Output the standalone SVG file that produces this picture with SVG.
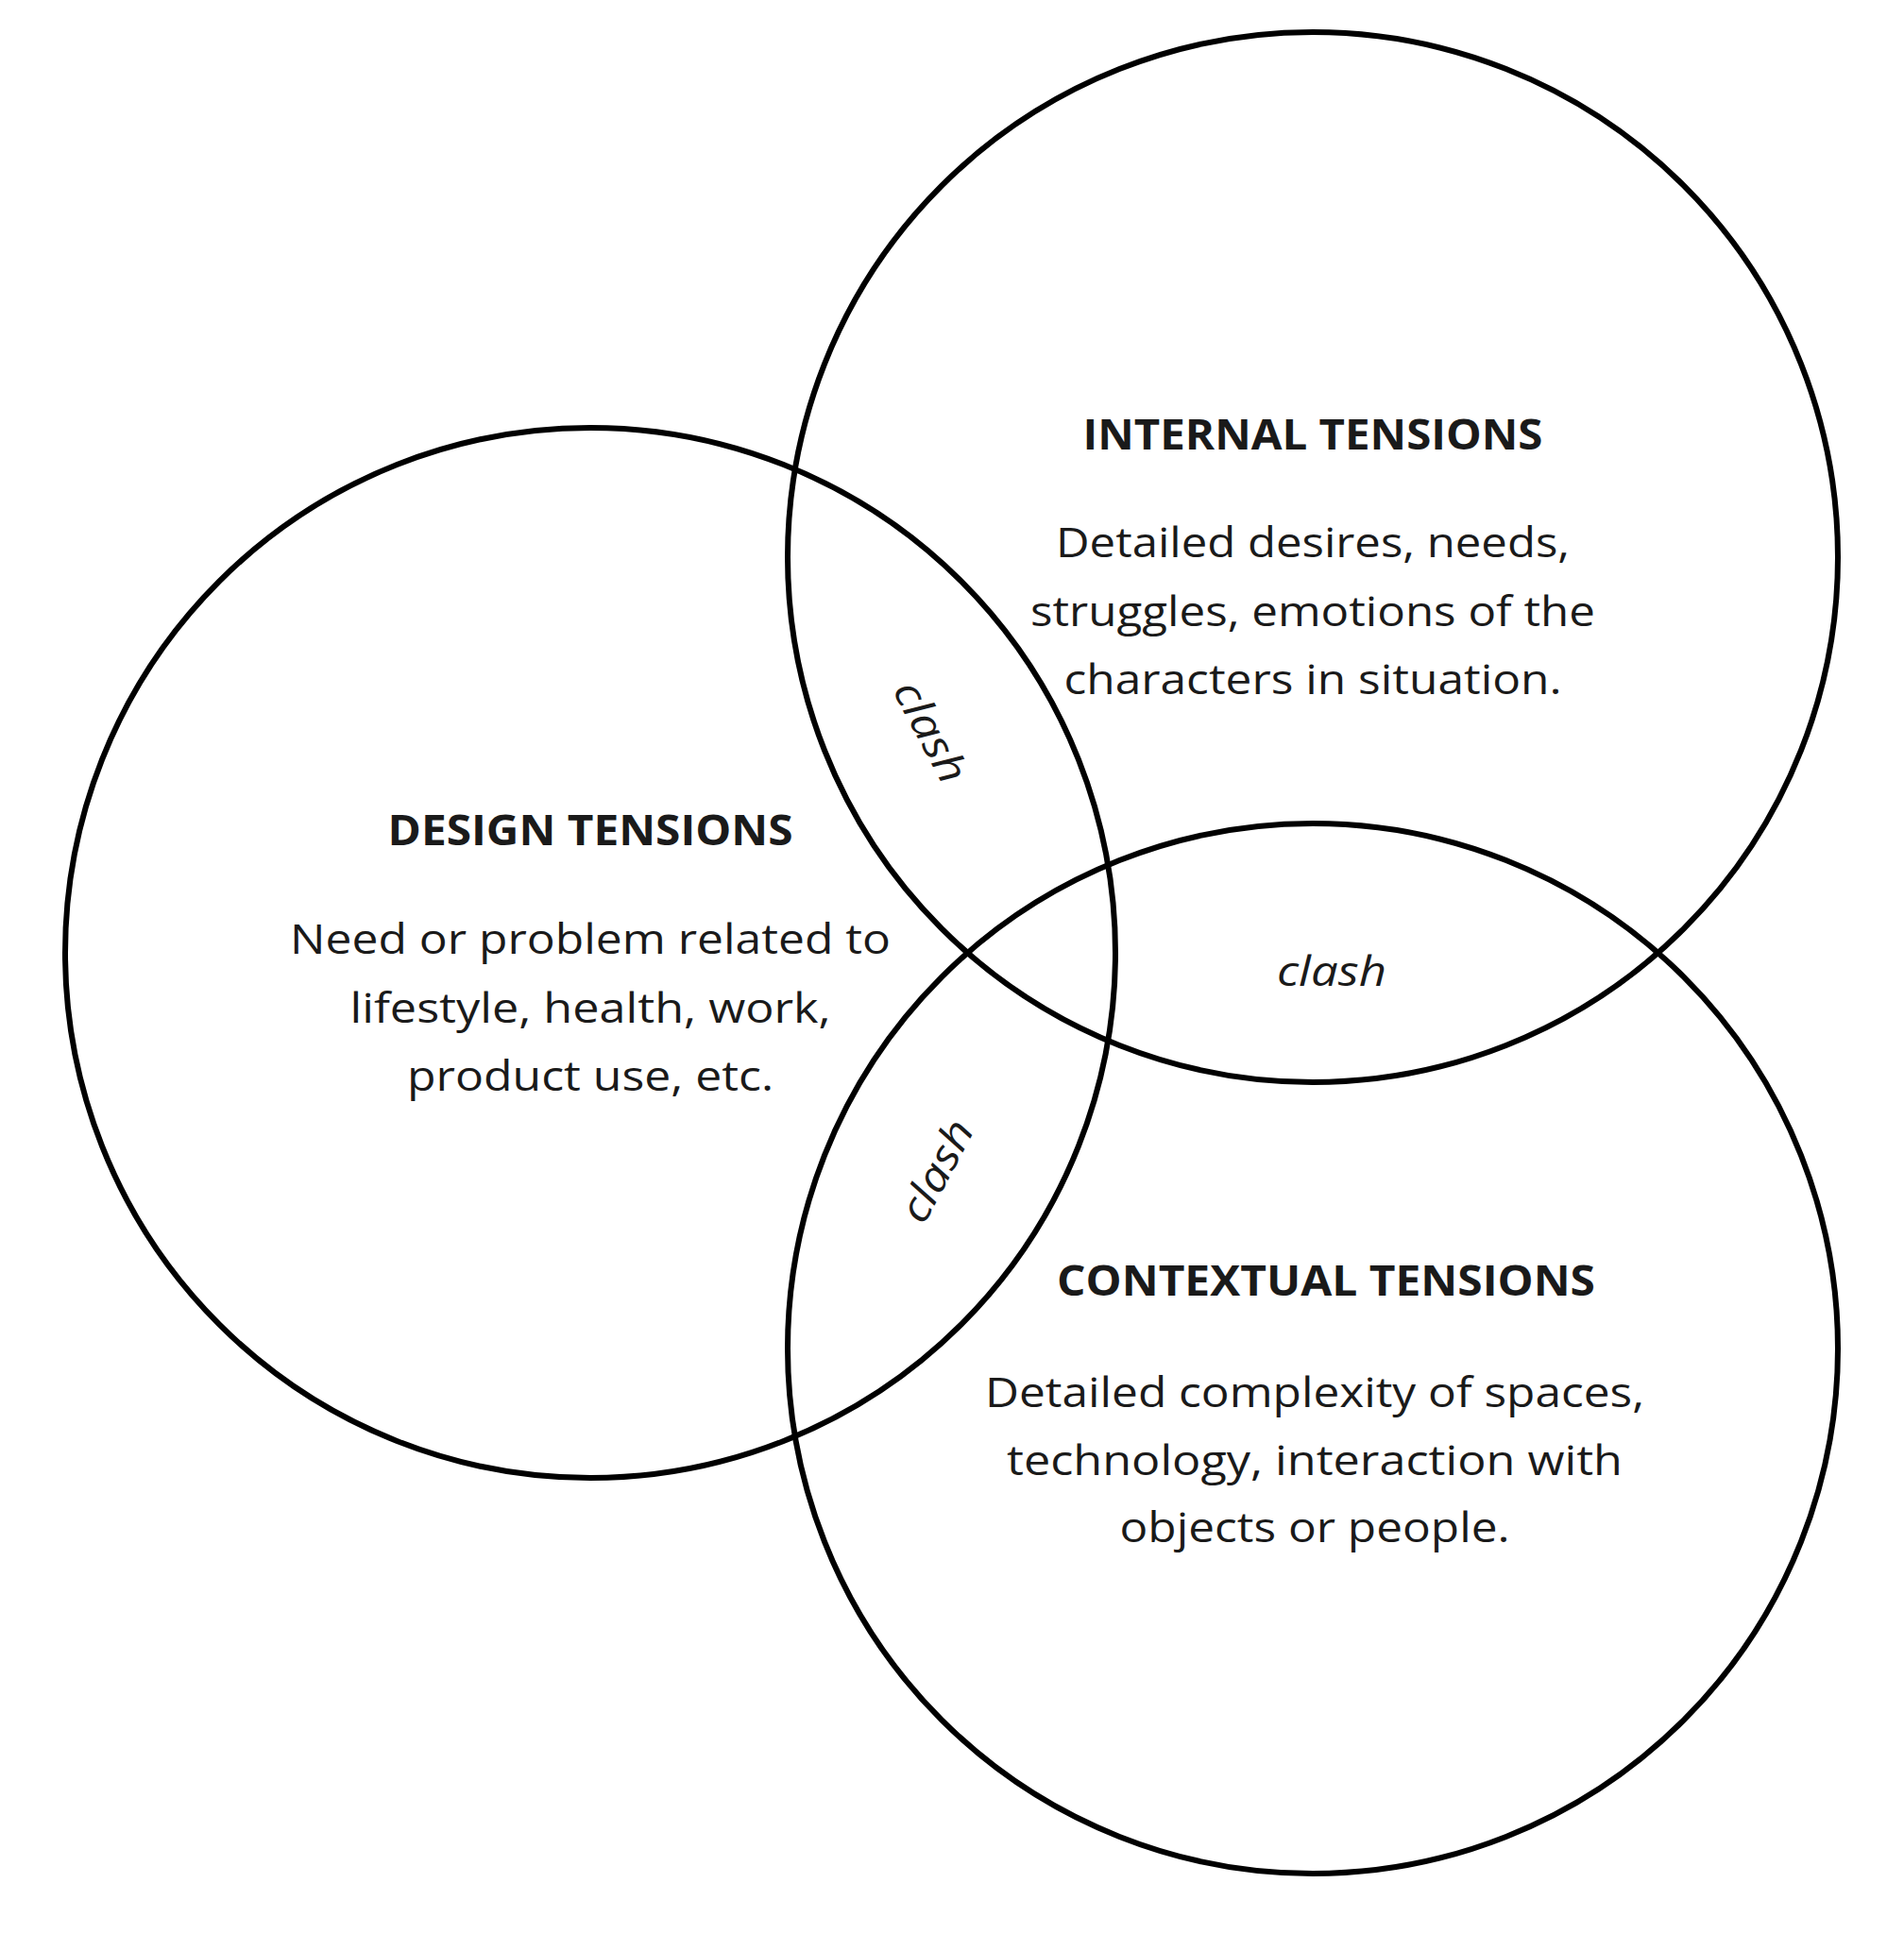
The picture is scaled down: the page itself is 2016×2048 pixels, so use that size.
<svg xmlns="http://www.w3.org/2000/svg" width="2016" height="2048" viewBox="0 0 2016 2048">
<style>
.c{fill:none;stroke:#000;stroke-width:6}
text{font-family:"Open Sans","Liberation Sans",sans-serif;fill:#1a1a1a;text-anchor:middle}
.h{font-weight:bold;font-size:44px}
.b{font-size:44px}
.i{font-style:italic;font-size:44px}
</style>
<rect width="2016" height="2048" fill="#fff"/>
<g id="design"><circle class="c" cx="625" cy="1009" r="556"/>
<text class="h" x="625" y="895" textLength="429" lengthAdjust="spacingAndGlyphs">DESIGN TENSIONS</text>
<text class="b" x="625" y="1010" textLength="636" lengthAdjust="spacingAndGlyphs">Need or problem related to</text>
<text class="b" x="625" y="1083" textLength="509" lengthAdjust="spacingAndGlyphs">lifestyle, health, work,</text>
<text class="b" x="625" y="1155" textLength="388" lengthAdjust="spacingAndGlyphs">product use, etc.</text></g>
<g id="internal"><circle class="c" cx="1390" cy="590" r="556"/>
<text class="h" x="1390" y="476" textLength="487" lengthAdjust="spacingAndGlyphs">INTERNAL TENSIONS</text>
<text class="b" x="1390" y="590" textLength="544" lengthAdjust="spacingAndGlyphs">Detailed desires, needs,</text>
<text class="b" x="1390" y="663" textLength="598" lengthAdjust="spacingAndGlyphs">struggles, emotions of the</text>
<text class="b" x="1390" y="735" textLength="527" lengthAdjust="spacingAndGlyphs">characters in situation.</text></g>
<g id="contextual"><circle class="c" cx="1390" cy="1428" r="556"/>
<text class="h" x="1404" y="1372" textLength="570" lengthAdjust="spacingAndGlyphs">CONTEXTUAL TENSIONS</text>
<text class="b" x="1392" y="1490" textLength="698" lengthAdjust="spacingAndGlyphs">Detailed complexity of spaces,</text>
<text class="b" x="1392" y="1562" textLength="652" lengthAdjust="spacingAndGlyphs">technology, interaction with</text>
<text class="b" x="1392" y="1633" textLength="413" lengthAdjust="spacingAndGlyphs">objects or people.</text></g>
<g id="clashes">
<text class="i" x="1410" y="1044" textLength="116" lengthAdjust="spacingAndGlyphs">clash</text>
<text class="i" transform="translate(985,775) rotate(62)" x="0" y="15" textLength="116" lengthAdjust="spacingAndGlyphs">clash</text>
<text class="i" transform="translate(992,1240) rotate(-62)" x="0" y="15" textLength="116" lengthAdjust="spacingAndGlyphs">clash</text>
</g>
</svg>
